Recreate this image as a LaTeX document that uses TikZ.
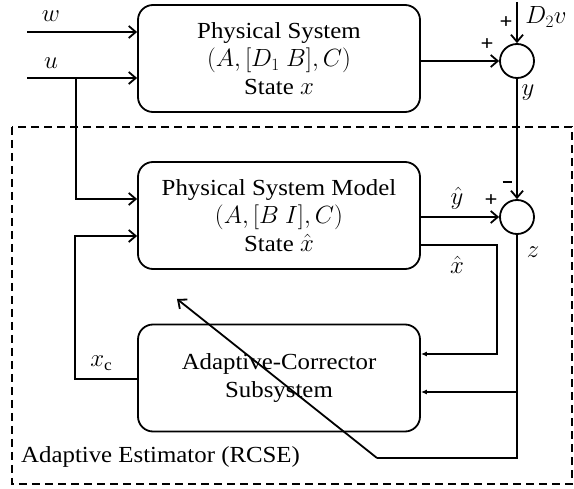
\documentclass[tikz,border=0pt]{standalone}
\usepackage{fontspec}
\setmainfont{Liberation Serif}[FakeStretch=1.08]
\usepackage{amsmath}
\usepackage{tikz}
\usetikzlibrary{positioning,calc}
\usetikzlibrary{arrows.meta}
\tikzset{
  blk/.style={draw=black,line width=1.8pt,rounded corners=15pt,minimum width=282pt,
    minimum height=107pt,align=center,font=\fontsize{23}{28}\selectfont},
  junc/.style={circle,draw=black,line width=1.8pt,minimum size=34pt,inner sep=0pt},
  sig/.style={draw=black,line width=1.8pt,-{Straight Barb[length=7pt,width=12pt,line width=1.8pt]}},
  sigin/.style={draw=black,line width=1.8pt,-{Latex[length=6pt,width=5pt]}},
  lbl/.style={inner sep=0pt,font=\fontsize{23}{26}\selectfont},
  sgn/.style={inner sep=0pt,font=\fontsize{21}{21}\selectfont\bfseries},
}

\begin{document}
\begin{tikzpicture}[x=1pt,y=-1pt]
\useasboundingbox (0,0) rectangle (574,489);
% estimator frame
\draw[line width=1.8pt,dash pattern=on 8pt off 5pt] (12,127) rectangle (572,484);
\node[lbl,anchor=west] (lest) at (21,457) {Adaptive Estimator (RCSE)};
% blocks
\node[blk] (ps) at (279,58.5) {Physical System\\$(A,[D_1\ B],C)$\\State $x$};
\node[blk] (psm) at (279,215.5) {Physical System Model\\$(A,[B\ I],C)$\\State $\hat{x}$};
\node[blk] (acs) at (279,378) {Adaptive-Corrector\\Subsystem};
\node[junc] (s1) at (517,61) {};
\node[junc] (s2) at (517,217) {};
% inputs
\coordinate (win) at (27,32);
\coordinate (uin) at (27,78);
\coordinate (ub) at (76,78);
\coordinate (vin) at (517,2);
\draw[sig] (win) -- (win -| ps.west);
\draw[sig] (uin) -- (uin -| ps.west);
\draw[sig] (ub) |- (psm.west |- 0,199);
\draw[sig] (ps.east |- s1) -- (s1.west);
\draw[sig] (vin) -- (s1.north);
\draw[sig] (s1.south) -- (s2.north);
\draw[sig] (psm.east |- s2) -- (s2.west);
% feedback paths
\coordinate (xb) at (497,245);
\coordinate (zb) at (517,392);
\coordinate (zc) at (517,458);
\coordinate (zd) at (377,458);
\coordinate (tip) at (177,299);
\coordinate (xcb) at (75,379);
\draw[sigin] (psm.east |- xb) -- (xb) |- (acs.east |- 0,354);
\draw[line width=1.8pt] (s2.south) -- (zc) -- (zd);
\draw[sig] (zd) -- (tip);
\draw[sigin] (zb) -- (acs.east |- zb);
\draw[sig] (acs.west |- xcb) -- (xcb) |- (psm.west |- 0,236);
% labels
\node[lbl] (lw) at (51,16) {$w$};
\node[lbl] (lu) at (51,63) {$u$};
\node[lbl] (ld) at (546,17) {$D_2v$};
\node[lbl] (ly) at (528,93) {$y$};
\node[lbl] (lyh) at (457,198) {$\hat{y}$};
\node[lbl] (lxh) at (457,265) {$\hat{x}$};
\node[lbl] (lz) at (533,252) {$z$};
\node[lbl] (lxc) at (101,363) {$x_{\mathrm{c}}$};
\node[sgn] (p1) at (487,45) {+};
\node[sgn] (p2) at (506,23) {+};
\node[sgn] (p3) at (491,201) {+};
\node[sgn] (m1) at (507,182) {\rule{9pt}{2.6pt}};
\end{tikzpicture}
\end{document}
